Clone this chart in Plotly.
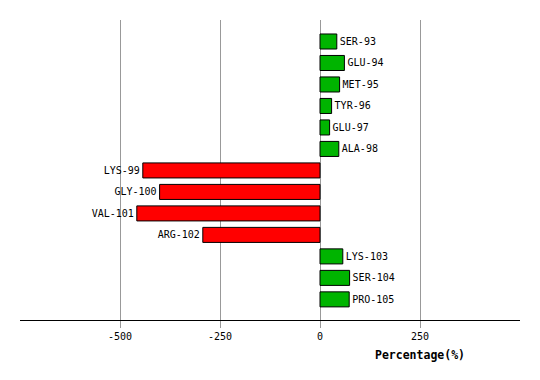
import plotly.graph_objects as go

residues = ["SER-93", "GLU-94", "MET-95", "TYR-96", "GLU-97", "ALA-98", "LYS-99",
            "GLY-100", "VAL-101", "ARG-102", "LYS-103", "SER-104", "PRO-105"]
values = [42, 61, 49, 29, 24, 47, -443, -401, -458, -293, 57, 74, 73]
tick_vals = [-500, -250, 0, 250]
tick_text = ["-500", "-250", "0", "250"]

colors = ["#00b400" if v >= 0 else "#ff0000" for v in values]
ypos = list(range(len(residues)))

fig = go.Figure(go.Bar(
    x=values, y=ypos, orientation="h",
    marker=dict(color=colors, line=dict(color="black", width=1)),
    width=0.7,
    text=residues, textposition="outside", cliponaxis=False,
    textfont=dict(family="DejaVu Sans Mono", size=10, color="black"),
    hoverinfo="skip",
))

fig.update_layout(
    width=532, height=372,
    margin=dict(l=12, r=20, t=12, b=60),
    plot_bgcolor="white", paper_bgcolor="white",
    showlegend=False,
    font=dict(family="DejaVu Sans Mono", size=10, color="black"),
    xaxis=dict(range=[-750, 500], tickvals=tick_vals, ticktext=tick_text,
               showgrid=True, gridcolor="#999999", gridwidth=1,
               zeroline=False, showline=True, linecolor="black", linewidth=1,
               ticks="outside", ticklen=7, tickcolor="#999999",
               tickfont=dict(family="DejaVu Sans Mono", size=10)),
    yaxis=dict(range=[12.96, -1.0], showticklabels=False, showgrid=False,
               zeroline=False, showline=False, ticks=""),
    annotations=[dict(text="<b>Percentage(%)</b>", x=0.8, y=-0.117,
                      xref="paper", yref="paper", showarrow=False,
                      xanchor="center", yanchor="middle",
                      font=dict(family="DejaVu Sans Mono", size=11.5))],
)

fig.write_html("out.html")
